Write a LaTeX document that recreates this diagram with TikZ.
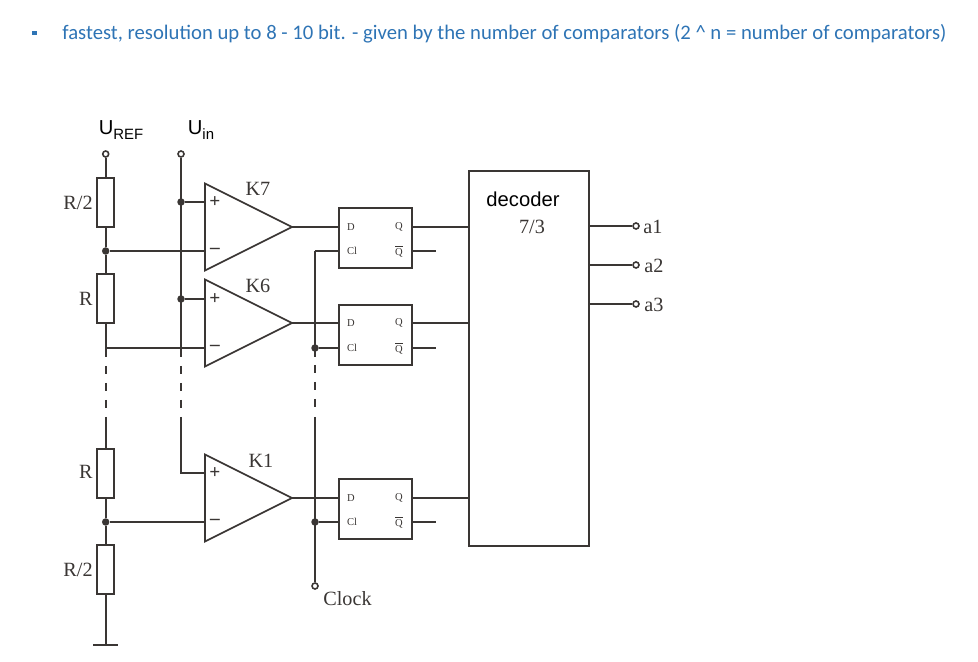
\documentclass[tikz,border=0pt]{standalone}
\usepackage{fontspec}
\setmainfont{Liberation Serif}
\newfontfamily\headfont{Carlito}
\newfontfamily\labelfont{Liberation Sans}
\usetikzlibrary{shapes.geometric}
\definecolor{wirecol}{HTML}{3A3634}
\definecolor{headcol}{HTML}{2E74B5}
\begin{document}
\begin{tikzpicture}[
    x=0.02cm, y=-0.02cm,
    wire/.style={draw=wirecol, line width=1pt},
    gap/.style={wire, dash pattern=on 0.16cm off 0.18cm},
    res/.style={draw=wirecol, line width=1pt, fill=white, minimum width=0.34cm, minimum height=0.98cm, inner sep=0pt},
    comp/.style={draw=wirecol, line width=1pt, fill=white, isosceles triangle, isosceles triangle stretches, minimum width=1.74cm, minimum height=1.74cm, inner sep=0pt, outer sep=0pt, anchor=apex},
    latch/.style={draw=wirecol, line width=1pt, fill=white, minimum width=1.46cm, minimum height=1.2cm, inner sep=0pt},
    term/.style={circle, draw=wirecol, line width=0.9pt, fill=white, minimum size=0.12cm, inner sep=0pt},
    dot/.style={circle, fill=wirecol, minimum size=0.15cm, inner sep=0pt},
    val/.style={font=\fontsize{11.5}{12}\selectfont, text=wirecol, inner sep=0pt},
    pinlab/.style={font=\fontsize{6}{6}\selectfont, text=wirecol, inner sep=0pt},
    sign/.style={font=\bfseries\fontsize{11}{11}\selectfont, text=wirecol, inner sep=0pt}
]
    \useasboundingbox (0,0) rectangle (978,662);

    % heading
    \node[fill=headcol, minimum size=0.09cm, inner sep=0pt] (bullet) at (34.5,33) {};
    \node[anchor=west, inner sep=0pt, text=headcol, font=\headfont\fontsize{11.78}{14}\selectfont] (head) at (62,33.5)
        {fastest, resolution up to 8 - 10 bit. - given by the number of comparators (2 \^{} n = number of comparators)};

    % terminals and labels
    \node[term] (uref) at (105.7,154) {};
    \node[term] (uin) at (181,154) {};
    \node[term] (clock) at (315,586) {};
    \node[font=\labelfont\fontsize{11.5}{12}\selectfont, inner sep=0pt] (ureflab) at (121,130) {U\raisebox{-3pt}{\fontsize{8.5}{9}\selectfont REF}};
    \node[font=\labelfont\fontsize{11.5}{12}\selectfont, inner sep=0pt] (uinlab) at (201,130) {U\raisebox{-3pt}{\fontsize{8.5}{9}\selectfont in}};
    \node[val, anchor=west] (clocklab) at (323,599) {Clock};

    % divider
    \node[res] (r1) at (105.7,202.5) {};
    \node[res] (r2) at (105.7,298.5) {};
    \node[res] (r3) at (105.7,473.5) {};
    \node[res] (r4) at (105.7,569.5) {};
    \node[val, anchor=east] (r1lab) at (93,203) {R/2};
    \node[val, anchor=east] (r2lab) at (93,299) {R};
    \node[val, anchor=east] (r3lab) at (93,472) {R};
    \node[val, anchor=east] (r4lab) at (93,570) {R/2};
    \coordinate (gnd) at (105.7,645);
    \coordinate (gndl) at (93,645);
    \coordinate (gndr) at (118,645);

    % comparators
    \node[comp] (k7) at (292,227) {};
    \node[comp] (k6) at (292,323) {};
    \node[comp] (k1) at (292,498) {};
    \node[val] (k7lab) at (258,189) {K7};
    \node[val] (k6lab) at (258,286) {K6};
    \node[val] (k1lab) at (261,461) {K1};
    \foreach \name/\yp/\ym in {k7/202/251, k6/299/348, k1/473/522} {
        \node[sign] (\name plus) at (215,\yp) {+};
        \node[sign] (\name minus) at (215,\ym) {--};
    }

    % latches
    \node[latch] (ff7) at (375.5,238) {};
    \node[latch] (ff6) at (375.5,335) {};
    \node[latch] (ff1) at (375.5,509) {};
    \foreach \name/\yq/\yc in {ff7/227/251, ff6/323/348, ff1/498/522} {
        \node[pinlab] (\name d) at (351,\yq) {D};
        \node[pinlab] (\name c) at (352,\yc) {Cl};
        \node[pinlab] (\name q) at (399,\yq) {Q};
        \node[pinlab] (\name n) at (399,\yc) {$\overline{\mbox{Q}}$};
        \coordinate (\name out) at (436,\yc);
    }

    % decoder
    \node[latch, minimum width=2.4cm, minimum height=7.5cm] (dec) at (529,358.5) {};
    \node[font=\labelfont\fontsize{11.5}{12}\selectfont, inner sep=0pt] (declab) at (523,199) {decoder};
    \node[val] (ratio) at (532,227) {7/3};
    \node[term] (a1) at (636,226) {};
    \node[term] (a2) at (636,265) {};
    \node[term] (a3) at (636,304) {};
    \node[val, anchor=west] (a1lab) at (643,227) {a1};
    \node[val, anchor=west] (a2lab) at (644,266) {a2};
    \node[val, anchor=west] (a3lab) at (644,305) {a3};

    % junctions
    \node[dot] (j7) at (105.7,251) {};
    \node[dot] (j1) at (105.7,522) {};
    \coordinate (j6) at (105.7,348);
    \node[dot] (p7) at (181,202) {};
    \node[dot] (p6) at (181,299) {};
    \coordinate (p1) at (181,473);
    \coordinate (c7) at (315,251);
    \node[dot] (c6) at (315,348) {};
    \node[dot] (c1) at (315,522) {};

    % rails
    \foreach \rail/\xr/\ya in {a/105.7/366, b/181/366, c/315/365} {
        \coordinate (\rail top) at (\xr,357);
        \coordinate (\rail bot) at (\xr,417);
        \draw[gap] (\xr,\ya) -- (\xr,409);
    }
    \draw[wire] (uref) -- (r1) -- (j7) -- (r2) -- (atop);
    \draw[wire] (abot) -- (r3) -- (j1) -- (r4) -- (gnd);
    \draw[wire, line width=1.3pt] (uin) -- (btop);
    \draw[wire] (bbot) -- (p1) -- (p1 -| k1.left corner);
    \draw[wire] (c7) -- (ctop);
    \draw[wire] (cbot) -- (clock);
    \draw[wire, line width=1.3pt] (gndl) -- (gndr);

    % comparator inputs
    \draw[wire] (p7) -- (k7plus -| k7.left corner);
    \draw[wire] (p6) -- (k6plus -| k6.left corner);
    \draw[wire] (j7) -- (k7minus -| k7.left corner);
    \draw[wire] (j6) -- (k6minus -| k6.left corner);
    \draw[wire] (j1) -- (k1minus -| k1.left corner);

    % comparator outputs, clock, latch outputs
    \foreach \comp/\ff/\clk in {k7/ff7/c7, k6/ff6/c6, k1/ff1/c1} {
        \draw[wire] (\comp.apex) -- (\comp.apex -| \ff.west);
        \draw[wire] (\clk) -- (\clk -| \ff.west);
        \draw[wire] (\comp.apex -| \ff.east) -- (\comp.apex -| dec.west);
        \draw[wire] (\ff out -| \ff.east) -- (\ff out);
    }
    \foreach \out in {a1,a2,a3} {
        \draw[wire] (\out -| dec.east) -- (\out);
    }
\end{tikzpicture}
\end{document}
